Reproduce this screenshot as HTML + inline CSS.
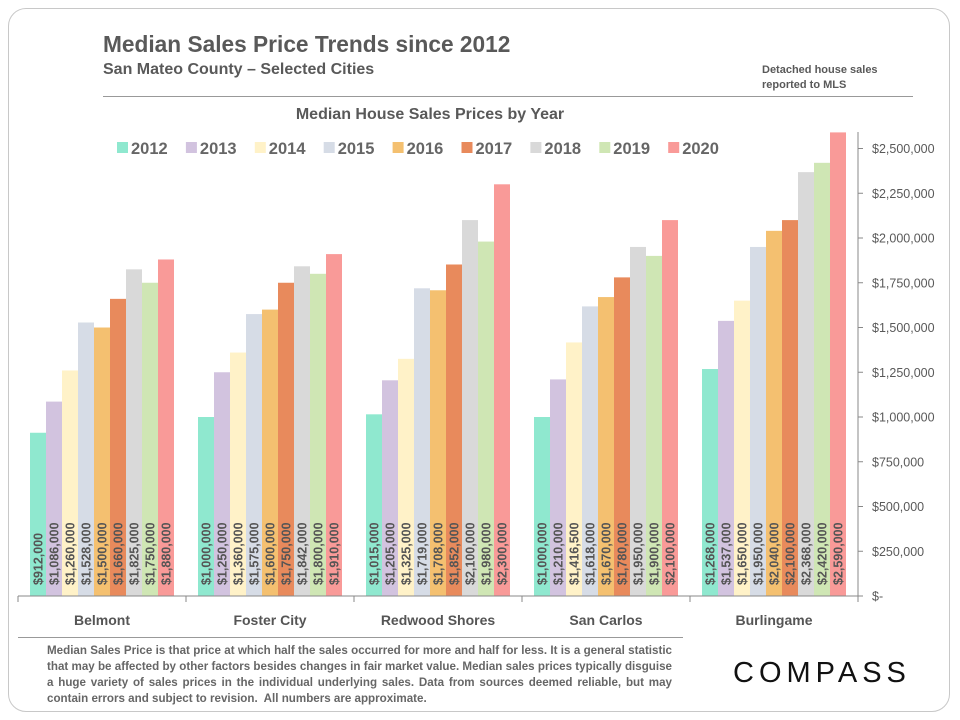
<!DOCTYPE html>
<html><head><meta charset="utf-8"><style>
body{margin:0;width:960px;height:720px;background:#fff;font-family:"Liberation Sans",Arial,sans-serif;overflow:hidden;position:relative}
.card{position:absolute;left:8px;top:8px;width:942px;height:704px;border:1px solid #c8c8c8;border-radius:18px;box-sizing:border-box}
.t{position:absolute;color:#595959;font-weight:bold}
</style></head><body>
<div class="card"></div>
<div class="t" style="left:103px;top:31px;font-size:22.7px">Median Sales Price Trends since 2012</div>
<div class="t" style="left:103px;top:61px;font-size:16px">San Mateo County – Selected Cities</div>
<div class="t" style="left:762px;top:63px;font-size:11px;line-height:15px">Detached house sales<br>reported to MLS</div>
<div style="position:absolute;left:103px;top:96px;width:810px;height:1px;background:#999"></div>
<div class="t" style="left:0;width:860px;text-align:center;top:106px;font-size:16px">Median House Sales Prices by Year</div>
<svg width="960" height="720" style="position:absolute;left:0;top:0" id="chart"></svg>
<div style="position:absolute;left:18px;top:637px;width:665px;height:1px;background:#999"></div>
<div class="t" style="left:47px;top:643px;width:625px;font-size:11.6px;line-height:16px;text-align:justify;color:#666">Median Sales Price is that price at which half the sales occurred for more and half for less. It is a general statistic that may be affected by other factors besides changes in fair market value. Median sales prices typically disguise a huge variety of sales prices in the individual underlying sales. Data from sources deemed reliable, but may contain errors and subject to revision.&nbsp; All numbers are approximate.</div>
<div style="position:absolute;left:733px;top:657px;font-size:29px;letter-spacing:5px;color:#111;font-family:'Liberation Sans',sans-serif">COMPASS</div>
<script>
const cities=["Belmont","Foster City","Redwood Shores","San Carlos","Burlingame"];
const years=["2012","2013","2014","2015","2016","2017","2018","2019","2020"];
const colors=["#8fe8cf","#d2c3df","#fff2c8","#d6dce6","#f4c070","#e88a5c","#d9d9d9","#cfe6b4","#f99a98"];
const v2012=[912000,1000000,1015000,1000000,1268000];
const v2013=[1086000,1250000,1205000,1210000,1537000];
const v2014=[1260000,1360000,1325000,1416500,1650000];
const v2015=[1528000,1575000,1719000,1618000,1950000];
const v2016=[1500000,1600000,1708000,1670000,2040000];
const v2017=[1660000,1750000,1852000,1780000,2100000];
const v2018=[1825000,1842000,2100000,1950000,2368000];
const v2019=[1750000,1800000,1980000,1900000,2420000];
const v2020=[1880000,1910000,2300000,2100000,2590000];
const ticks=[0,250000,500000,750000,1000000,1250000,1500000,1750000,2000000,2250000,2500000];
const series=[v2012,v2013,v2014,v2015,v2016,v2017,v2018,v2019,v2020];
const svg=document.getElementById('chart');const NS="http://www.w3.org/2000/svg";
const x0=18,gw=168,bw=16,boff=12,yBase=596,yTop=148.5,vTop=2500000;
const y=v=>yBase-(v/vTop)*(yBase-yTop);
function mk(t,a,p){const e=document.createElementNS(NS,t);for(const k in a)e.setAttribute(k,a[k]);(p||svg).appendChild(e);return e;}
const fmt=v=>"$"+v.toLocaleString("en-US");
series.forEach((s,j)=>s.forEach((v,i)=>{
 const bx=x0+i*gw+boff+j*bw;
 const r=mk('rect',{x:bx,y:y(v),width:bw,height:yBase-y(v),fill:colors[j]});
 
 
 const t=mk('text',{x:0,y:0,transform:`translate(${bx+bw/2+4.5},585) rotate(-90)`,'font-size':'12.5','font-weight':'bold',fill:'#555'});
 t.textContent=fmt(v);
 
 
}));
const ax=mk('line',{x1:x0,y1:yBase,x2:x0+5*gw,y2:yBase,stroke:'#888'});


for(let i=0;i<=5;i++){const l=mk('line',{x1:x0+i*gw,y1:yBase,x2:x0+i*gw,y2:yBase+6,stroke:'#888'});
 
 }
cities.forEach((c,i)=>{const t=mk('text',{x:x0+i*gw+gw/2,y:625,'text-anchor':'middle','font-size':'14','font-weight':'bold',fill:'#555'});t.textContent=c;
 
 });
const yx=858;
const ya=mk('line',{x1:yx,y1:132,x2:yx,y2:yBase,stroke:'#888'});


ticks.forEach(v=>{const l=mk('line',{x1:yx,y1:y(v),x2:yx+5,y2:y(v),stroke:'#888'});
 
 
 const t=mk('text',{x:872,y:y(v)+4.5,'font-size':'12.5',fill:'#595959'});t.textContent=v===0?"$-":fmt(v);
 
 });
years.forEach((yr,j)=>{const lx=117+j*68.9;
 const r=mk('rect',{x:lx,y:142,width:11,height:11,fill:colors[j]});
 
 
 const t=mk('text',{x:lx+14,y:154,'font-size':'16.5','font-weight':'bold',fill:'#666'});t.textContent=yr;
 
 });
</script>
</body></html>
